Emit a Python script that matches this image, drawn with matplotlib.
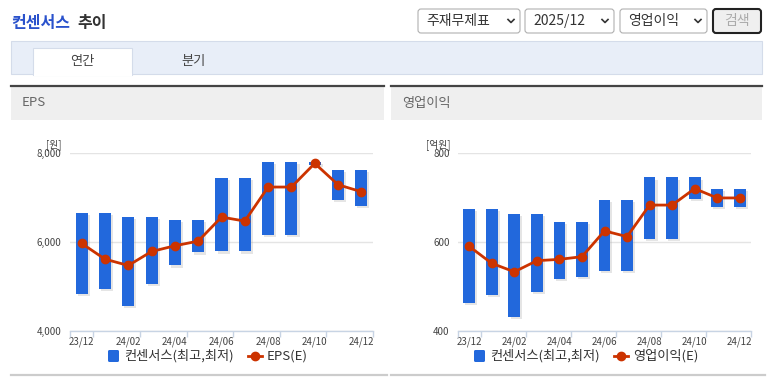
import matplotlib
matplotlib.use("Agg")
import matplotlib.pyplot as plt
import matplotlib.patheffects as pe
from matplotlib.patches import Rectangle, FancyBboxPatch

plt.rcParams["font.family"] = ["Noto Sans CJK KR", "DejaVu Sans"]

# data
months = ["23/12", "24/01", "24/02", "24/03", "24/04", "24/05", "24/06",
          "24/07", "24/08", "24/09", "24/10", "24/11", "24/12"]

eps_high = [6658, 6658, 6560, 6560, 6492, 6492, 7430, 7430, 7797, 7797, 7797, 7610, 7610]
eps_low = [4835, 4940, 4572, 5052, 5472, 5765, 5787, 5787, 6155, 6155, 7737, 6950, 6807]
eps_est = [5968, 5615, 5472, 5787, 5915, 6020, 6560, 6470, 7235, 7235, 7767, 7287, 7130]

op_high = [674, 674, 664, 664, 645, 645, 694, 694, 745, 745, 745, 720, 720]
op_low = [464, 482, 432, 487, 516, 521, 534, 534, 607, 607, 697, 678, 678]
op_est = [590, 552, 533, 558, 561, 567, 625, 612, 683, 683, 720, 699, 699]

W, H = 773, 388
BLUE = "#2268dc"
RED = "#cc3300"

fig = plt.figure(figsize=(W / 100, H / 100), dpi=100)

# background layer in pixel coordinates
bg = fig.add_axes([0, 0, 1, 1])
bg.set_xlim(0, W)
bg.set_ylim(H, 0)
bg.axis("off")

# title
bg.text(11, 23, "컨센서스", color="#2a52cc", fontsize=11.5, fontweight="bold", va="center")
bg.text(77, 23, "추이", color="#333333", fontsize=11.5, fontweight="bold", va="center")

# select boxes and search button
boxes = [(418, 520, "주재무제표"), (525, 614, "2025/12"), (620, 707, "영업이익")]
for x0, x1, label in boxes:
    bg.add_patch(FancyBboxPatch((x0, 9), x1 - x0, 24, boxstyle="round,pad=0,rounding_size=3",
                                fc="white", ec="#b0b0b0", lw=0.8))
    bg.text(x0 + 8, 21.5, label, fontsize=10, color="#333333", va="center")
    bg.plot([x1 - 12, x1 - 9, x1 - 6], [19.5, 22.5, 19.5], color="#333333", lw=1.2)
bg.add_patch(FancyBboxPatch((713, 9), 48, 24, boxstyle="round,pad=0,rounding_size=3",
                            fc="#efefef", ec="#222222", lw=1.5))
bg.text(737, 21.5, "검색", fontsize=10, color="#aaaaaa", va="center", ha="center")

# tab bar
bg.add_patch(Rectangle((11, 41), 751, 33, fc="#e8eef8", ec="#d4dcea", lw=0.8))
bg.add_patch(Rectangle((33, 48), 99, 27, fc="white", ec="#d4dcea", lw=0.8))
bg.add_patch(Rectangle((33.5, 73), 98, 3, fc="white", ec="none"))
bg.text(82, 61, "연간", fontsize=9.5, color="#444444", ha="center", va="center")
bg.text(193, 61, "분기", fontsize=9.5, color="#444444", ha="center", va="center")

# panel headers and bottom lines
panels = [(11, 384, "EPS"), (391, 762, "영업이익")]
for x0, x1, label in panels:
    bg.add_patch(Rectangle((x0, 86), x1 - x0, 34, fc="#efefef", ec="none"))
    bg.plot([x0, x1], [86, 86], color="#444444", lw=1.6)
    bg.text(x0 + 11, 103, label, fontsize=9.5, color="#666666", va="center")
    bg.plot([x0, x1 + 3], [375, 375], color="#cccccc", lw=1.6)


def px_axes(x0, x1, y0, y1):
    return fig.add_axes([x0 / W, 1 - y1 / H, (x1 - x0) / W, (y1 - y0) / H])


def draw_chart(ax, high, low, est, ymin, ymax, yticks, ylabels, unit, est_label, leg_x):
    x = range(len(months))
    bars = ax.bar(x, [h - l for h, l in zip(high, low)], bottom=low, width=0.52,
                  color=BLUE, zorder=2)
    for b in bars:
        b.set_path_effects([pe.SimplePatchShadow(offset=(1.5, -1.5), shadow_rgbFace="#aaaaaa",
                                                 alpha=0.3), pe.Normal()])
    ax.plot(x, est, color=RED, lw=2, marker="o", ms=6, zorder=3)

    ax.set_xlim(-0.5, len(months) - 0.5)
    ax.set_ylim(ymin, ymax)
    ax.set_yticks(yticks)
    ax.set_yticklabels(ylabels)
    ax.set_xticks(list(x)[::2])
    ax.set_xticklabels(months[::2])
    ax.set_xticks([-0.5, 0.5, 2.5, 4.5, 6.5, 8.5, 10.5, 12.5], minor=True)
    ax.tick_params(axis="x", which="major", length=0, pad=4, labelsize=7, labelcolor="#444444")
    ax.tick_params(axis="x", which="minor", length=4, color="#c8d4e4", width=1)
    ax.tick_params(axis="y", length=0, pad=6, labelsize=7, labelcolor="#444444")
    for s in ["top", "right", "left"]:
        ax.spines[s].set_visible(False)
    ax.spines["bottom"].set_color("#c8d4e4")
    ax.spines["bottom"].set_linewidth(1)
    ax.grid(axis="y", color="#e4e4e4", lw=1, zorder=0)
    ax.set_axisbelow(True)
    ax.set_facecolor("none")
    ax.text(-0.85, ymax + (ymax - ymin) * 0.045, unit,
            fontsize=7, color="#444444", ha="right", va="center", clip_on=False)

    # legend drawn in pixel space
    bg.add_patch(FancyBboxPatch((leg_x, 350), 11, 12, boxstyle="round,pad=0,rounding_size=1.5",
                                fc=BLUE, ec="none"))
    bg.text(leg_x + 16, 356, "컨센서스(최고,최저)", fontsize=9.5, color="#333333", va="center")
    lx = leg_x + 140
    bg.plot([lx, lx + 14], [356, 356], color=RED, lw=2)
    bg.plot([lx + 7], [356], marker="o", color=RED, ms=6)
    bg.text(lx + 19, 356, est_label, fontsize=9.5, color="#333333", va="center")


ax1 = px_axes(70, 373, 153, 331)
draw_chart(ax1, eps_high, eps_low, eps_est, 4000, 8000, [4000, 6000, 8000],
           ["4,000", "6,000", "8,000"], "[원]", "EPS(E)", 108)

ax2 = px_axes(458, 751, 153, 331)
draw_chart(ax2, op_high, op_low, op_est, 400, 800, [400, 600, 800],
           ["400", "600", "800"], "[억원]", "영업이익(E)", 474)

fig.savefig("out.png", dpi=100)
